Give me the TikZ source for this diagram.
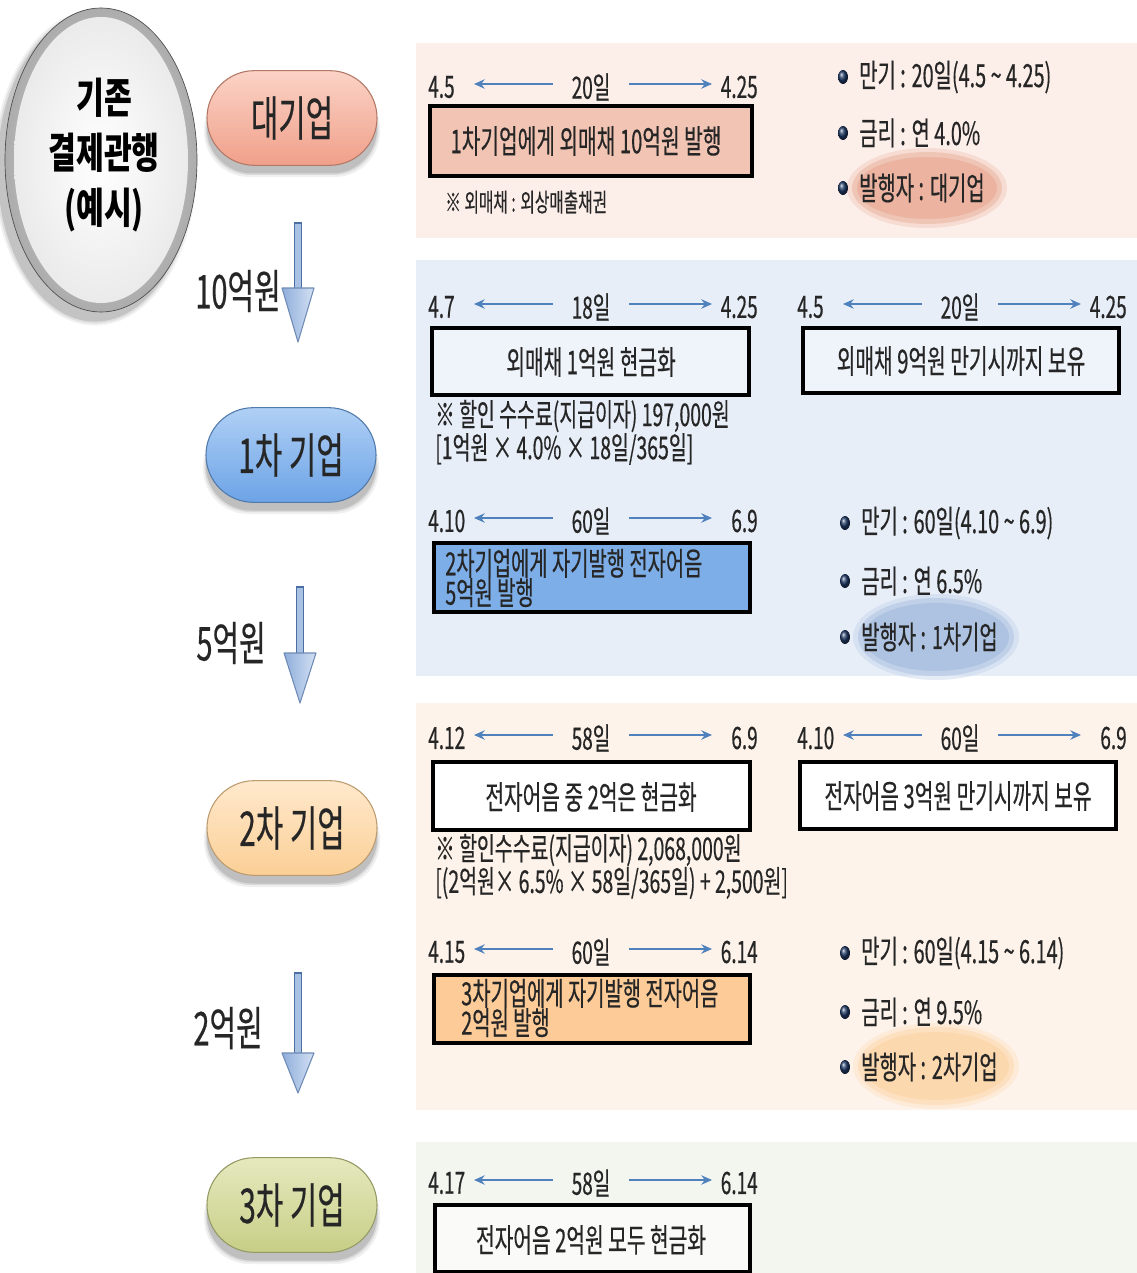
\documentclass[tikz,border=0pt]{standalone}
\usepackage{fontspec}
\setmainfont{Noto Sans CJK KR}[FakeStretch=0.62,FakeBold=0.4]
\newfontfamily\krt{Noto Sans CJK KR}[FakeStretch=0.72]
\usetikzlibrary{shapes.misc,shapes.geometric,arrows.meta}
\definecolor{txt}{HTML}{262626}
\definecolor{pbga}{HTML}{FCEEE9}
\definecolor{pbgb}{HTML}{E8EEF8}
\definecolor{pbgc}{HTML}{FEF3EA}
\definecolor{pbgd}{HTML}{F3F5EF}
\definecolor{bpink}{HTML}{F2C4B4}
\definecolor{bwb}{HTML}{EFF3FA}
\definecolor{bblue}{HTML}{7DAEE8}
\definecolor{bpeach}{HTML}{FCCB98}
\definecolor{bwd}{HTML}{FAFBF8}
\definecolor{tlblue}{HTML}{4F81BD}
\definecolor{navyc}{HTML}{1F3864}
\definecolor{hla}{HTML}{EBB3A0}
\definecolor{hlb}{HTML}{AEC3E1}
\definecolor{hlc}{HTML}{FCD8AE}
\definecolor{pka}{HTML}{FBD3C6}
\definecolor{pkb}{HTML}{F0A08A}
\definecolor{bla}{HTML}{B0D0F5}
\definecolor{blb}{HTML}{6CA3E6}
\definecolor{pea}{HTML}{FFE9CC}
\definecolor{peb}{HTML}{FBCF96}
\definecolor{gra}{HTML}{E6E9BE}
\definecolor{grb}{HTML}{C7CE86}
\definecolor{afill}{HTML}{A9C2E4}
\definecolor{aedge}{HTML}{4B6EA3}
\definecolor{aheada}{HTML}{8FAEDB}
\definecolor{aheadb}{HTML}{D3E0F3}
\newcommand\fsz[2]{\fontsize{#1}{#2}\selectfont}
\tikzset{
  every node/.style={inner sep=0pt,text=txt},
  tl/.style={font=\fsz{23pt}{23pt}},
  tla/.style={draw=tlblue,line width=1.6pt,-{Stealth[length=8pt,width=7pt]}},
  boxst/.style={draw=black,line width=3pt},
  btxt/.style={font=\fsz{24.5pt}{24.5pt}},
  btwo/.style={font=\fsz{24pt}{22pt},anchor=west,align=left},
  note/.style={font=\fsz{23.5pt}{23.5pt},anchor=west},
  smallnote/.style={font=\fsz{19pt}{19pt},anchor=west},
  bultxt/.style={font=\fsz{24pt}{24pt},anchor=west},
  alab/.style={font=\fsz{35pt}{35pt},anchor=east},
  pillst/.style={rounded rectangle,minimum width=127.5pt,minimum height=71pt,
    font=\fsz{36pt}{36pt},line width=0.8pt},
  shaftst/.style={fill=afill,draw=aedge,line width=0.8pt},
  headst/.style={left color=aheada,right color=aheadb,draw=aedge!80,line width=0.8pt,line join=round}
}
% timeline: id, x0, y, start, days, end
\newcommand\tline[6]{%
  \node[tl,anchor=west] (#1s) at (#2,#3) {#4};
  \node[tl] (#1d) at ({#2+163},#3) {#5};
  \node[tl,anchor=east] (#1e) at ({#2+330},#3) {#6};
  \coordinate (#1L) at ({#2+46},{#3-3});
  \coordinate (#1R) at ({#2+284},{#3-3});
  \draw[tla,shorten <=14pt] (#1d.west |- #1L) -- (#1L);
  \draw[tla,shorten <=14pt] (#1d.east |- #1R) -- (#1R);}
% box: name, x1, y1, x2, y2, fill
\newcommand\bx[6]{%
  \node[boxst,fill=#6,minimum width={(#4-#2)*0.75pt},minimum height={(#5-#3)*0.75pt}]
    (#1) at ({(#2+#4)/2},{(#3+#5)/2}) {};}
% bullet: name, x, y, text
\newcommand\bulitem[4]{%
  \shade[ball color=navyc] (#2,#3) ellipse (5 and 7);
  \node[bultxt] (#1) at ({#2+16},#3) {#4};}
% highlight ellipse
\newcommand\hlell[6]{%
  \coordinate (#1) at (#2,#3);
  \fill[#6,opacity=.3] (#1) ellipse ({#4+8} and {#5+7});
  \fill[#6,opacity=.55] (#1) ellipse ({#4+3} and {#5+3});
  \fill[#6] (#1) ellipse ({#4-2} and {#5-2});}
% pill: name, cx, cy, top, bottom, text
\newcommand\pill[6]{%
  \foreach \s/\op in {10/0.06,6/0.09,3/0.12}{%
    \fill[black,opacity=\op,rounded corners=34pt]
      ({#2-84-\s*0.4},{#3-34}) rectangle ({#2+84+\s*0.4},{#3+54+\s*0.5});}
  \node[pillst,top color=#4,bottom color=#5,draw=#5!75!black] (#1) at (#2,#3) {#6};}
% down arrow: name, x, ytop, yhead, ytip
\newcommand\darrow[5]{%
  \coordinate (#1a) at (#2,#3);
  \coordinate (#1b) at (#2,#5);
  \draw[shaftst] ({#2-3.5},#3) rectangle ({#2+3.5},{#4+2});
  \draw[headst] ({#2-16},#4) -- ({#2+16},#4) -- (#1b) -- cycle;}

\begin{document}
\begin{tikzpicture}[x=0.75pt,y=-0.75pt]
\useasboundingbox (0,0) rectangle (1137,1273);
\fill[white] (0,0) rectangle (1137,1273);

% panels
\fill[pbga] (416,43) rectangle (1137,238);
\fill[pbgb] (416,260) rectangle (1137,676);
\fill[pbgc] (416,703) rectangle (1137,1110);
\fill[pbgd] (416,1142) rectangle (1137,1273);

% big circle
\foreach \s/\op in {14/0.05,9/0.08,4/0.12}{%
  \fill[black,opacity=\op] (95,168) ellipse ({96+\s*0.4} and {152+\s*0.4});}
\node[ellipse,minimum width=144pt,minimum height=228pt,inner color=gray!25,
  outer color=gray!65,draw=gray!60!black,line width=0.5pt] (ring) at (101,160) {};
\node[ellipse,minimum width=130.5pt,minimum height=214.5pt,inner color=white,
  outer color=gray!16] (face) at (101,160) {};
\node[font=\krt\bfseries\fsz{31.5pt}{41pt},align=center,text=black] (ttl) at (104,155)
  {기존\\결제관행\\(예시)};

% pills
\pill{pa}{292}{118}{pka}{pkb}{대기업}
\pill{pb}{291}{455}{bla}{blb}{1차 기업}
\pill{pc}{292}{828}{pea}{peb}{2차 기업}
\pill{pd}{292}{1205}{gra}{grb}{3차 기업}

% down arrows
\darrow{da}{298}{223}{288}{342}
\darrow{db}{300}{587}{653}{703}
\darrow{dc}{298}{973}{1053}{1093}
\node[alab] (la) at (281,291) {10억원};
\node[alab] (lb) at (266,643) {5억원};
\node[alab] (lc) at (263,1028) {2억원};

% panel 1
\tline{ta}{428}{87}{4.5}{20일}{4.25}
\bx{ba}{430}{106}{752}{176}{bpink}
\node[btxt] (bat) at (586,141) {1차기업에게 외매채 10억원 발행};
\node[smallnote] (na) at (445,202) {※ 외매채 : 외상매출채권};
\hlell{ea}{927}{188}{72}{33}{hla}
\bulitem{ua1}{843}{77}{만기 : 20일(4.5 \textasciitilde{} 4.25)}
\bulitem{ua2}{843}{133}{금리 : 연 4.0\%}
\bulitem{ua3}{843}{188}{발행자 : 대기업}

% panel 2
\tline{tb}{428}{307}{4.7}{18일}{4.25}
\tline{tc}{797}{307}{4.5}{20일}{4.25}
\bx{bb}{432}{328}{749}{395}{bwb}
\node[btxt] (bbt) at (591,362) {외매채 1억원 현금화};
\bx{bc}{803}{328}{1119}{393}{bwb}
\node[btxt] (bct) at (961,361) {외매채 9억원 만기시까지 보유};
\node[note] (nb1) at (435,416) {※ 할인 수수료(지급이자) 197,000원};
\node[note] (nb2) at (435,449) {[1억원 × 4.0\% × 18일/365일]};
\tline{td}{428}{521}{4.10}{60일}{6.9}
\bx{bd}{434}{543}{750}{612}{bblue}
\node[btwo] (bdt) at (445,578) {2차기업에게 자기발행 전자어음\\5억원 발행};
\hlell{eb}{936}{637}{75}{36}{hlb}
\bulitem{ub1}{845}{523}{만기 : 60일(4.10 \textasciitilde{} 6.9)}
\bulitem{ub2}{845}{581}{금리 : 연 6.5\%}
\bulitem{ub3}{845}{637}{발행자 : 1차기업}

% panel 3
\tline{te}{428}{738}{4.12}{58일}{6.9}
\tline{tf}{797}{738}{4.10}{60일}{6.9}
\bx{be}{433}{762}{750}{830}{white}
\node[btxt] (bet) at (591,797) {전자어음 중 2억은 현금화};
\bx{bf}{800}{762}{1116}{829}{white}
\node[btxt] (bft) at (958,796) {전자어음 3억원 만기시까지 보유};
\node[note] (ne1) at (435,850) {※ 할인수수료(지급이자) 2,068,000원};
\node[note] (ne2) at (435,883) {[(2억원× 6.5\% × 58일/365일) + 2,500원]};
\tline{tg}{428}{952}{4.15}{60일}{6.14}
\bx{bg}{434}{975}{750}{1043}{bpeach}
\node[btwo] (bgt) at (461,1008) {3차기업에게 자기발행 전자어음\\2억원 발행};
\hlell{ec}{936}{1066}{75}{36}{hlc}
\bulitem{uc1}{845}{953}{만기 : 60일(4.15 \textasciitilde{} 6.14)}
\bulitem{uc2}{845}{1012}{금리 : 연 9.5\%}
\bulitem{uc3}{845}{1067}{발행자 : 2차기업}

% panel 4
\tline{th}{428}{1183}{4.17}{58일}{6.14}
\bx{bh}{435}{1205}{750}{1272}{bwd}
\node[btxt] (bht) at (591,1240) {전자어음 2억원 모두 현금화};
\end{tikzpicture}
\end{document}
